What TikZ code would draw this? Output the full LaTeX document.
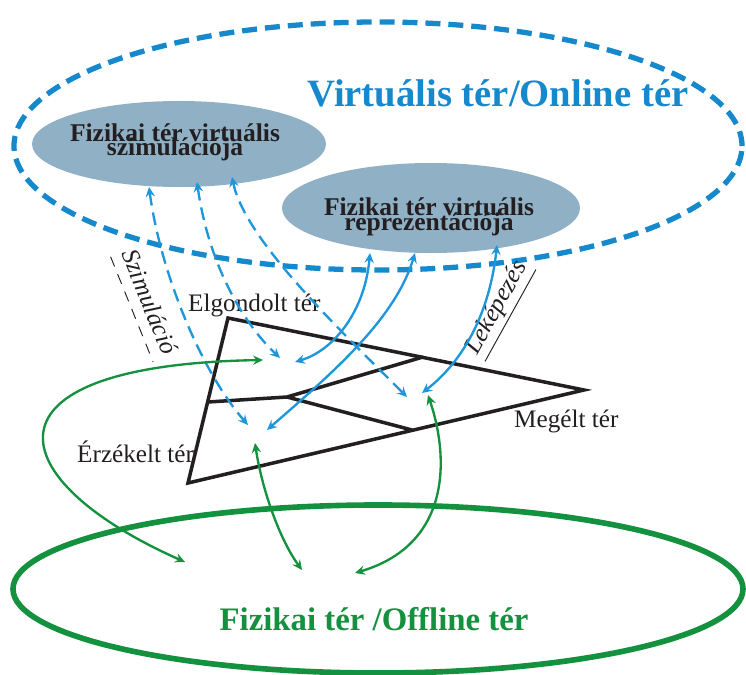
\documentclass[tikz,border=0pt]{standalone}
\usepackage{fontspec}
\setmainfont{Liberation Serif}
\usetikzlibrary{shapes.geometric,arrows.meta,calc}
\definecolor{vblue}{RGB}{22,136,204}
\definecolor{ablue}{RGB}{30,150,220}
\definecolor{efill}{RGB}{143,176,197}
\definecolor{pgreen}{RGB}{20,145,62}
\definecolor{tblack}{RGB}{35,31,32}
\begin{document}
\begin{tikzpicture}[x=0.03cm,y=-0.03cm,
  tipb/.tip={Stealth[length=8.5pt,width=8pt,inset=3pt]},
  barrow/.style={line width=2pt,draw=ablue,tipb-tipb},
  dbarrow/.style={barrow,dash pattern=on 11pt off 6pt},
  garrow/.style={line width=2pt,draw=pgreen,tipb-tipb},
  subell/.style={ellipse,fill=efill,inner sep=0pt},
  elltext/.style={anchor=base,inner sep=0pt,text=tblack,font=\fontsize{21.8}{22}\selectfont\bfseries},
  lbl/.style={inner sep=0pt,text=tblack,font=\fontsize{21.5}{22}\selectfont},
  rlbl/.style={inner sep=1pt,text=tblack,font=\fontsize{21.5}{22}\selectfont\itshape},
  tri/.style={line width=3pt,draw=tblack,line join=miter}
]
\useasboundingbox (0,0) rectangle (746,675);
% ellipses
\node[subell,minimum width=8.82cm,minimum height=2.58cm] (sim) at (179,144) {};
\node[subell,minimum width=8.94cm,minimum height=2.7cm] (rep) at (431,208) {};
\node[ellipse,inner sep=0pt,draw=vblue,line width=4.5pt,dash pattern=on 12.8pt off 6.8pt,
      minimum width=21.84cm,minimum height=7.44cm] (online) at (378,146) {};
\node[ellipse,inner sep=0pt,draw=pgreen,line width=4.8pt,
      minimum width=21.9cm,minimum height=5.04cm] (offline) at (378,589) {};
% titles
\node[anchor=base,inner sep=0pt,text=vblue,font=\fontsize{33}{34}\selectfont\bfseries] (ttl1) at (498,107) {Virtuális tér/Online tér};
\node[anchor=base,inner sep=0pt,text=pgreen,font=\fontsize{28}{30}\selectfont\bfseries] (ttl2) at (374,630) {Fizikai tér /Offline tér};
% ellipse texts
\node[elltext] (sim1) at (175,142) {Fizikai tér virtuális};
\node[elltext] (sim2) at (175,156) {szimulációja};
\node[elltext] (rep1) at (429,215) {Fizikai tér virtuális};
\node[elltext] (rep2) at (429,230) {reprezentációja};
% triangle
\coordinate (tA) at (228,318);
\coordinate (tB) at (584,390);
\coordinate (tC) at (188,483);
\coordinate (tL) at (208,402);
\coordinate (tJ) at (287,397);
\coordinate (tU) at (423,357);
\coordinate (tD) at (412,430);
\draw[tri] (tA) -- (tB) -- (tC) -- cycle;
\draw[tri] (tL) -- (tJ) -- (tU);
\draw[tri] (tJ) -- (tD);
% labels
\node[lbl,anchor=base west] (elg) at (188,311) {Elgondolt tér};
\node[lbl,anchor=base west] (meg) at (514,427) {Megélt tér};
\node[lbl,anchor=base west] (erz) at (77,462) {Érzékelt tér};
\node[rlbl,rotate=-68] (szim) at (150,302) {Szimuláció};
\draw[tblack,line width=0.8pt,dash pattern=on 9pt off 7pt]
  ($(szim.south west)!-0.45!(szim.north west)$) -- ($(szim.south east)!-0.45!(szim.north east)$);
\node[rlbl,rotate=61] (lek) at (497,308) {Leképezés};
\draw[tblack,line width=0.8pt] ($(lek.south west)!-0.1!(lek.north west)$) -- ($(lek.south east)!-0.1!(lek.north east)$);
% endpoints
\coordinate (d1a) at (149,187); \coordinate (d1b) at (248,425);
\coordinate (d2a) at (197,182); \coordinate (d2b) at (280,358);
\coordinate (d3a) at (232,177); \coordinate (d3b) at (407,397);
\coordinate (s1a) at (370,253); \coordinate (s1b) at (295,362);
\coordinate (s2a) at (415,253); \coordinate (s2b) at (267,430);
\coordinate (s3a) at (497,245); \coordinate (s3b) at (422,393);
\coordinate (g1a) at (263,360); \coordinate (g1b) at (185,562);
\coordinate (g2a) at (255,443); \coordinate (g2b) at (302,570);
\coordinate (g3a) at (428,395); \coordinate (g3b) at (355,573);
% dashed blue arrows
\draw[dbarrow] (d1a) .. controls (160,270) and (200,370) .. (d1b);
\draw[dbarrow] (d2a) .. controls (208,260) and (240,320) .. (d2b);
\draw[dbarrow] (d3a) .. controls (245,240) and (340,330) .. (d3b);
% solid blue arrows
\draw[barrow] (s1a) .. controls (365,310) and (335,350) .. (s1b);
\draw[barrow] (s2a) .. controls (395,320) and (330,375) .. (s2b);
\draw[barrow] (s3a) .. controls (490,310) and (465,360) .. (s3b);
% green arrows
\draw[garrow] (g1a) .. controls (-30,365) and (0,480) .. (g1b);
\draw[garrow] (g2a) .. controls (262,490) and (280,540) .. (g2b);
\draw[garrow] (g3a) .. controls (450,460) and (450,545) .. (g3b);
\end{tikzpicture}
\end{document}
